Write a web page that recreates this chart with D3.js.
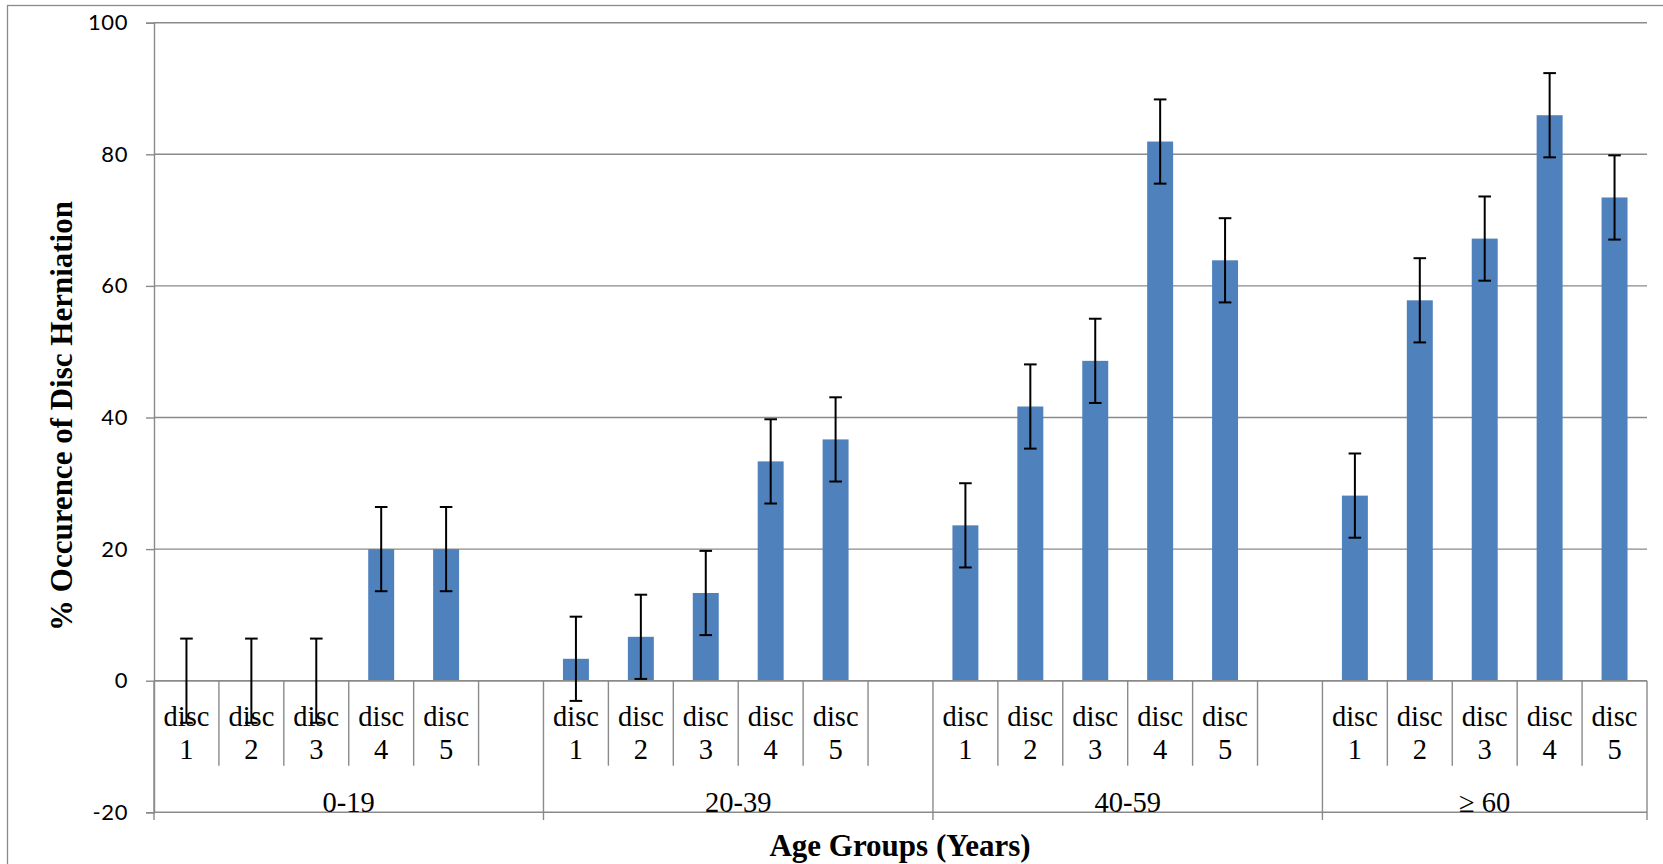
<!DOCTYPE html>
<html>
<head>
<meta charset="utf-8">
<script src="https://cdn.jsdelivr.net/npm/d3@7"></script>
<style>
  html, body { margin: 0; padding: 0; background: #fff; }
  svg { display: block; }
</style>
</head>
<body>
<svg id="chart" width="1663" height="864"></svg>
<script>
// Age groups and the lumbar discs examined in each one
const ageGroups = ["0-19", "20-39", "40-59", "\u2265 60"];
const discNames = ["disc 1", "disc 2", "disc 3", "disc 4", "disc 5"];

// % occurrence of herniation per disc, one array per age group
const occurrence0to19 = [0, 0, 0, 20.0, 20.0];
const occurrence20to39 = [3.33, 6.67, 13.33, 33.33, 36.67];
const occurrence40to59 = [23.61, 41.67, 48.61, 81.94, 63.89];
const occurrence60plus = [28.13, 57.81, 67.19, 85.94, 73.44];

// Error bar half-widths (same units), one array per age group
const error0to19 = [6.4, 6.4, 6.4, 6.4, 6.4];
const error20to39 = [6.4, 6.4, 6.4, 6.4, 6.4];
const error40to59 = [6.4, 6.4, 6.4, 6.4, 6.4];
const error60plus = [6.4, 6.4, 6.4, 6.4, 6.4];

// Whether an empty category follows each group on the axis
const trailingBlank = [true, true, true, false];

const yTicks = [-20, 0, 20, 40, 60, 80, 100];

const occurrence = [occurrence0to19, occurrence20to39, occurrence40to59, occurrence60plus];
const errors = [error0to19, error20to39, error40to59, error60plus];

// Flatten into axis slots: one per disc, plus blank spacer slots
const slots = [];
const bars = [];
ageGroups.forEach((g, gi) => {
  discNames.forEach((d, di) => {
    const key = g + "|" + d;
    slots.push({ key, group: g, gi, label: d });
    bars.push({ key, value: occurrence[gi][di], err: errors[gi][di] });
  });
  if (trailingBlank[gi]) slots.push({ key: g + "|blank", group: g, gi, label: "" });
});

const svg = d3.select("#chart");
const W = 1663, H = 864;
const plot = { left: 154, right: 1647, top: 22.7, bottom: 812.3 };

const x = d3.scaleBand()
  .domain(slots.map(s => s.key))
  .range([plot.left, plot.right])
  .paddingInner(0).paddingOuter(0);

const y = d3.scaleLinear()
  .domain([d3.min(yTicks), d3.max(yTicks)])
  .range([plot.bottom, plot.top]);

const gridColor = "#8a8a8a";
const barColor = "#4f81bd";

// Outer chart frame
svg.append("rect")
  .attr("x", 7.5).attr("y", 5.5)
  .attr("width", W + 20).attr("height", H + 20)
  .attr("fill", "none")
  .attr("stroke", gridColor)
  .attr("stroke-width", 1.3);

// Horizontal gridlines
svg.append("g")
  .selectAll("line")
  .data(yTicks)
  .join("line")
  .attr("x1", plot.left).attr("x2", plot.right)
  .attr("y1", d => y(d)).attr("y2", d => y(d))
  .attr("stroke", gridColor)
  .attr("stroke-width", 1.4);

// Value axis using d3.axisLeft, restyled
const yAxis = svg.append("g")
  .attr("transform", `translate(${plot.left},0)`)
  .call(d3.axisLeft(y).tickValues(yTicks).tickSize(8).tickPadding(18).tickFormat(d => String(d)));
yAxis.select(".domain").attr("stroke", gridColor).attr("stroke-width", 1.4);
yAxis.selectAll(".tick line").attr("stroke", gridColor).attr("stroke-width", 1.4);
yAxis.selectAll(".tick text")
  .attr("font-family", "Lato, 'Open Sans', sans-serif")
  .attr("font-size", 22)
  .attr("letter-spacing", 0.6)
  .attr("fill", "#000");

// Bars
svg.append("g")
  .selectAll("rect")
  .data(bars.filter(b => b.value > 0))
  .join("rect")
  .attr("x", d => x(d.key) + x.bandwidth() * 0.3)
  .attr("width", x.bandwidth() * 0.4)
  .attr("y", d => y(d.value))
  .attr("height", d => y(0) - y(d.value))
  .attr("fill", barColor);

// Category axis along zero
svg.append("line")
  .attr("x1", plot.left).attr("x2", plot.right)
  .attr("y1", y(0)).attr("y2", y(0))
  .attr("stroke", gridColor).attr("stroke-width", 1.4);

// Separators between disc slots (short) and age groups (long)
const groupStarts = [];
slots.forEach((s, i) => { if (i === 0 || slots[i - 1].group !== s.group) groupStarts.push(i); });
const sepY2Short = 765.7, sepY2Long = 820;
const sepData = [];
for (let i = 0; i <= slots.length; i++) {
  const isGroupEdge = i === slots.length || groupStarts.includes(i);
  const xp = i === slots.length ? plot.right : x(slots[i].key);
  sepData.push({ xp, long: isGroupEdge });
}
svg.append("g")
  .selectAll("line")
  .data(sepData)
  .join("line")
  .attr("x1", d => d.xp).attr("x2", d => d.xp)
  .attr("y1", y(0)).attr("y2", d => d.long ? sepY2Long : sepY2Short)
  .attr("stroke", gridColor).attr("stroke-width", 1.4);

// Disc labels (two lines)
const serif = "'Liberation Serif', 'Times New Roman', serif";
const discText = svg.append("g")
  .selectAll("text")
  .data(slots.filter(s => s.label))
  .join("text")
  .attr("text-anchor", "middle")
  .attr("font-family", serif)
  .attr("font-size", 28.5)
  .attr("fill", "#000");
discText.append("tspan")
  .attr("x", d => x(d.key) + x.bandwidth() / 2)
  .attr("y", 726)
  .text(d => d.label.split(" ")[0]);
discText.append("tspan")
  .attr("x", d => x(d.key) + x.bandwidth() / 2)
  .attr("y", 759)
  .text(d => d.label.split(" ")[1]);

// Age group labels, centred on each group's span
const groupSpans = ageGroups.map(g => {
  const s = slots.filter(d => d.group === g);
  return { g, x0: x(s[0].key), x1: x(s[s.length - 1].key) + x.bandwidth() };
});
svg.append("g")
  .selectAll("text")
  .data(groupSpans)
  .join("text")
  .attr("x", d => (d.x0 + d.x1) / 2)
  .attr("y", 812)
  .attr("text-anchor", "middle")
  .attr("font-family", serif)
  .attr("font-size", 28.5)
  .attr("fill", "#000")
  .text(d => d.g);

// Error bars with caps
const capHalf = 6.3;
const eb = svg.append("g")
  .attr("stroke", "#000")
  .attr("stroke-width", 2)
  .selectAll("g")
  .data(bars)
  .join("g");
eb.append("line")
  .attr("x1", d => x(d.key) + x.bandwidth() / 2)
  .attr("x2", d => x(d.key) + x.bandwidth() / 2)
  .attr("y1", d => y(d.value + d.err))
  .attr("y2", d => y(d.value - d.err));
eb.append("line")
  .attr("x1", d => x(d.key) + x.bandwidth() / 2 - capHalf)
  .attr("x2", d => x(d.key) + x.bandwidth() / 2 + capHalf)
  .attr("y1", d => y(d.value + d.err))
  .attr("y2", d => y(d.value + d.err));
eb.append("line")
  .attr("x1", d => x(d.key) + x.bandwidth() / 2 - capHalf)
  .attr("x2", d => x(d.key) + x.bandwidth() / 2 + capHalf)
  .attr("y1", d => y(d.value - d.err))
  .attr("y2", d => y(d.value - d.err));

// Axis titles
svg.append("text")
  .attr("transform", `translate(72,416) rotate(-90)`)
  .attr("text-anchor", "middle")
  .attr("font-family", serif)
  .attr("font-weight", "bold")
  .attr("font-size", 31)
  .attr("fill", "#000")
  .text("% Occurence of Disc Herniation");

svg.append("text")
  .attr("x", 900)
  .attr("y", 856)
  .attr("text-anchor", "middle")
  .attr("font-family", serif)
  .attr("font-weight", "bold")
  .attr("font-size", 31)
  .attr("fill", "#000")
  .text("Age Groups (Years)");
</script>
</body>
</html>
